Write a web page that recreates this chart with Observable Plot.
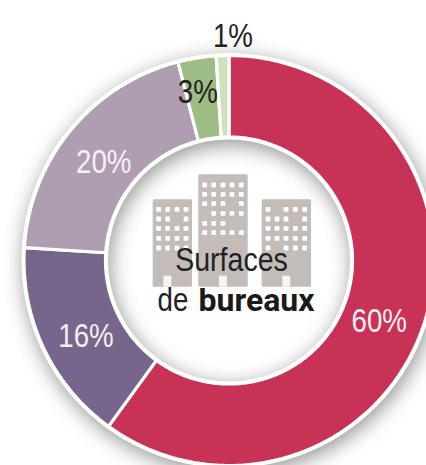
<!DOCTYPE html>
<html>
<head>
<meta charset="utf-8">
<script src="https://cdn.jsdelivr.net/npm/d3@7"></script>
<script src="https://cdn.jsdelivr.net/npm/@observablehq/plot@0.6"></script>
<style>
html,body{margin:0;padding:0;background:#fff;overflow:hidden}
.ring-shadow{filter:drop-shadow(2px 5px 10px rgba(0,0,0,.42))}
</style>
</head>
<body>
<div id="chart"></div>
<script>
// Data
const categories = ["A", "B", "C", "D", "E"];
const shares = [60, 16, 20, 3, 1];
const labels = ["60%", "16%", "20%", "3%", "1%"];
const colors = ["#C93257", "#77668B", "#AF9DB1", "#9DBD85", "#CFE0BB"];
const labelColors = ["#f6eef0", "#f1eef3", "#f5f1f5", "#222", "#222"];

// Layout
const W = 426, H = 465, cx = 228.5, cy = 260, R = 205, r0 = 123.5;
const labelRadius = [162, 162, 159, 171, 224.5];
const labelNudge = [4, -2.8, -1.6, -1.5, 2.8];
const font = "'Liberation Sans', sans-serif";
const boldFont = "Roboto, 'Liberation Sans', sans-serif";

const polar = (rad, deg) => {
  const a = deg * Math.PI / 180;
  return [cx + rad * Math.sin(a), cy - rad * Math.cos(a)];
};

// Wedges
let acc = 0;
const wedgePts = [], labelRows = [];
categories.forEach((c, i) => {
  const a0 = acc * 3.6, a1 = (acc + shares[i]) * 3.6;
  const n = Math.ceil(a1 - a0) + 1;
  for (let k = 0; k <= n; k++) {
    const [x, y] = polar(R, a0 + (a1 - a0) * k / n);
    wedgePts.push({c, x, y, fill: colors[i]});
  }
  for (let k = n; k >= 0; k--) {
    const [x, y] = polar(r0, a0 + (a1 - a0) * k / n);
    wedgePts.push({c, x, y, fill: colors[i]});
  }
  const [lx, ly] = polar(labelRadius[i], (a0 + a1) / 2 + labelNudge[i]);
  labelRows.push({x: lx, y: ly, text: labels[i], color: labelColors[i]});
  acc += shares[i];
});

// Building icon
const buildings = [
  {x1: 152.7, x2: 192, y1: 199.3, y2: 286.7, door: 167.3},
  {x1: 198.3, x2: 247.7, y1: 174.3, y2: 286.7, door: 223},
  {x1: 261.7, x2: 311, y1: 199.3, y2: 286.7, door: 286.3}
];
const windowCols = [
  [158.7, 167.7, 177, 186],
  [204.7, 213.7, 223, 232, 241.3],
  [268, 277, 286, 295.3, 304.7]
];
const windowRows = [
  [209.3, 219, 228.3, 238.3, 248],
  [185, 194.3, 203.7, 213.3, 223.3, 232.7],
  [209.3, 219, 228.3, 238.3, 248]
];
const windowMasks = [
  ["1111", "1101", "1111", "1111", "1111"],
  ["11111", "11111", "11101", "01111", "11100", "11111"],
  ["10111", "11101", "11111", "11111", "10111"]
];
const windows = [];
windowMasks.forEach((rows, b) => rows.forEach((m, j) => [...m].forEach((on, i) => {
  if (on === "1") windows.push({x: windowCols[b][i], y: windowRows[b][j]});
})));

const chart = Plot.plot({
  width: W, height: H, margin: 0,
  x: {domain: [0, W], range: [0, W], axis: null},
  y: {domain: [0, H], range: [0, H], axis: null},
  style: {background: "#fff", overflow: "hidden"},
  marks: [
    Plot.dot([{x: cx, y: cy}], {x: "x", y: "y", r: (R + r0) / 2, stroke: "#fff", strokeWidth: R - r0 + 5, fill: "none", className: "ring-shadow"}),
    Plot.line(wedgePts, {x: "x", y: "y", z: "c", fill: "fill", stroke: "#fff", strokeWidth: 3.2, curve: "linear-closed", strokeLinejoin: "miter"}),
    Plot.rect(buildings, {x1: "x1", x2: "x2", y1: "y1", y2: "y2", fill: "#C3BCB8", rx: 1.5}),
    Plot.rect(buildings, {x1: d => d.door - 4, x2: d => d.door + 4, y1: d => d.y2 - 11, y2: "y2", fill: "#f4f4f4"}),
    Plot.rect(windows, {x1: d => d.x - 2.4, x2: d => d.x + 2.4, y1: d => d.y - 2.4, y2: d => d.y + 2.4, fill: "#fff", rx: 0.8}),
    Plot.text(labelRows, {x: "x", y: "y", text: "text", fill: "color", fontSize: 33, fontFamily: font, textAnchor: "middle", lineAnchor: "middle", className: "condensed"}),
    Plot.text(["Surfaces"], {x: () => 231, y: () => 260, text: d => d, fill: "#222", fontSize: 34, fontFamily: font, textAnchor: "middle", lineAnchor: "middle", className: "condensed"}),
    Plot.text(["de"], {x: () => 157, y: () => 300, text: d => d, fill: "#222", fontSize: 33, fontFamily: font, textAnchor: "start", lineAnchor: "middle", className: "condensed"}),
    Plot.text(["bureaux"], {x: () => 314, y: () => 300, text: d => d, fill: "#1a1a1a", fontSize: 32, fontFamily: boldFont, fontWeight: 700, textAnchor: "end", lineAnchor: "middle"})
  ]
});
// The reference face is condensed: squeeze these labels horizontally around their anchor.
chart.querySelectorAll(".condensed text").forEach(t => {
  t.setAttribute("transform", (t.getAttribute("transform") || "") + " scale(0.84,1)");
});
document.getElementById("chart").appendChild(chart);
</script>
</body>
</html>
